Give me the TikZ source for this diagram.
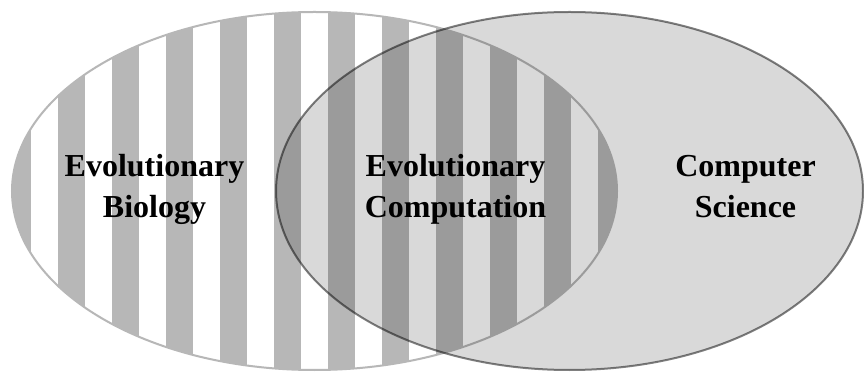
\documentclass[tikz,border=0pt]{standalone}
\usepackage{fontspec}
\setmainfont{Liberation Serif}
\definecolor{stripegray}{HTML}{B7B7B7}
\definecolor{csfill}{HTML}{D9D9D9}
\definecolor{csline}{HTML}{808080}
\tikzset{
    label/.style={font=\fontsize{32}{41.5}\selectfont\bfseries, align=center, inner sep=0pt}
}
\begin{document}
\begin{tikzpicture}[x=1pt, y=1pt]
    \useasboundingbox (0,0) rectangle (864,372);
    \fill[white] (0,0) rectangle (864,372);

    % striped set on the left
    \begin{scope}
        \clip (314.5,181) ellipse [x radius=302.5, y radius=179];
        \foreach \i in {0,...,11}
            \fill[stripegray] (4+54*\i,0) rectangle (31+54*\i,372);
    \end{scope}
    \draw[stripegray, line width=2pt] (314.5,181) ellipse [x radius=302.5, y radius=179];

    % shaded set on the right, multiplied over the stripes
    \begin{scope}[blend mode=multiply]
        \filldraw[fill=csfill, draw=csline, line width=2pt] (569.5,181) ellipse [x radius=293.5, y radius=179];
    \end{scope}

    \node[label] (bio) at (154.5,182.5) {Evolutionary\\Biology};
    \node[label] (ec) at (455.5,182.5) {Evolutionary\\Computation};
    \node[label] (cs) at (745.5,185.5) {Computer\\Science};
\end{tikzpicture}
\end{document}
